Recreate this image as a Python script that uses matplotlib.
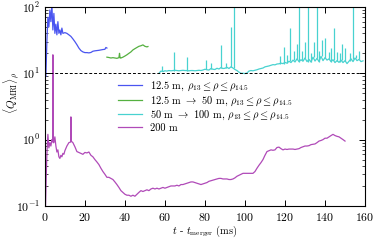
import matplotlib
matplotlib.use("Agg")
import matplotlib.pyplot as plt
import numpy as np

# --- data (t - t_merger in ms, <Q_MRI>_rho) ---
blue_t = [0.5, 1.0, 1.5, 2.0, 2.5, 3.0, 3.5, 4.0, 4.5, 5.0, 5.5, 6.0, 6.5, 7.0, 7.5,
          8.0, 8.5, 9.0, 10, 11, 12, 13, 14, 15, 16, 17, 18, 19, 20, 21, 22, 23, 24,
          25, 26, 27, 28, 29, 30, 30.5, 31]
blue_v = [9, 30, 70, 50, 90, 60, 110, 45, 80, 40, 55, 38, 60, 40, 45,
          38, 48, 40, 41, 40, 38, 36, 33, 30, 27, 24, 22, 21, 20.5, 20.5, 20.3, 20.6, 21.5,
          21.8, 22, 22.2, 22.5, 22.8, 23, 24.5, 24]

green_t = [31, 32, 33, 34, 35, 36, 37, 37.3, 37.6, 38, 39, 40, 41, 42, 43, 44, 45,
           46, 47, 48, 49, 50, 51, 51.5]
green_v = [17.5, 17.3, 17.0, 17.2, 17.0, 16.8, 17.2, 20, 17, 17.0, 17.5, 18.2, 19, 20,
           21, 22.5, 23.5, 24.5, 25.5, 26, 26.8, 25.5, 25, 25.3]

cyan_base_t = list(range(57, 160))
cyan_base_v = [10.0, 10.8, 10.6, 10.9, 10.8, 11.0, 10.9, 11.0, 11.1, 11.0, 10.9, 11.0, 11.1,
               11.0, 11.0, 10.9, 11.0, 11.0, 10.9, 11.0, 11.1, 11.0, 11.2, 11.5, 11.3, 11.2,
               11.8, 11.5, 11.4, 11.9, 11.6, 12.2, 11.8, 11.9, 12.3, 11.8, 12.5, 12.0, 11.4,
               11.0, 10.4, 10.0, 10.0, 9.9, 10.1, 10.8, 11.0, 10.9, 11.1, 11.3, 11.6, 11.8,
               12.0, 12.5, 12.7, 12.9, 13.2, 13.5, 13.4, 13.8, 13.9, 14.2, 14.0, 14.6, 14.2,
               15.2, 14.5, 15.8, 14.8, 16.5, 15.0, 16.0, 15.2, 17.0, 15.0, 16.2, 14.8, 17.5,
               15.3, 16.8, 15.0, 18.0, 15.5, 17.2, 15.8, 16.5, 15.0, 16.0, 14.5, 15.5, 14.6,
               15.8, 14.5, 15.5, 14.0, 15.2, 16.5, 15.0, 17.0, 15.5, 16.2, 15.0, 15.4]
# narrow spikes on top of the cyan run: time, foot value, peak value
cyan_spike_t = [58.4, 64.5, 71.0, 80.3, 83.0, 88.0, 90.5, 93.0, 94.7, 117.5, 119.5, 121.0,
                122.5, 124.5, 126.0, 127.0, 128.5, 130.0, 131.5, 133.0, 134.4, 136.0, 137.0,
                138.5, 140.0, 142.0, 143.2, 144.5, 146.0, 147.3, 148.5, 150.0, 152.5, 154.0,
                155.3, 157.0]
cyan_spike_base = [10.8, 11.0, 11.0, 11.5, 11.8, 12.2, 11.9, 12.5, 12.0, 13.9, 14.0, 14.2,
                   15.2, 15.8, 16.5, 15.0, 16.0, 17.0, 15.0, 14.8, 17.5, 16.8, 15.0,
                   18.0, 17.2, 16.5, 15.0, 16.0, 15.5, 14.6, 15.8, 15.5, 15.2, 16.5,
                   17.0, 16.2]
cyan_spike_v = [13, 21, 17.6, 16, 14.3, 26.7, 14.5, 50, 160, 18, 25, 19,
                48, 22, 28, 160, 22, 30, 160, 20, 30, 160, 22,
                32, 34, 21, 24, 48, 21, 20, 28, 24, 20, 160,
                19, 22]

mag_t = [0.3, 0.7, 1.0, 1.5, 2.0, 2.5, 3.0, 3.5, 3.9, 4.0, 4.1, 4.5, 5.0, 5.5, 6.0, 6.5,
         7.0, 7.5, 8.0, 8.5, 9.0, 9.5, 10, 11, 12, 12.9, 13.0, 13.1, 14, 15, 16, 17, 18,
         19, 20, 21, 22, 23, 24, 25, 26, 27, 28, 29, 30, 31, 32, 33, 34, 35, 36, 37, 38,
         39, 40, 41, 42, 43, 44, 45, 46, 47, 48, 49, 50, 51, 52, 53, 54, 55, 56, 57, 58,
         59, 60, 61, 62, 63, 64, 65, 66, 67, 68, 69, 70, 71, 72, 73, 74, 75, 76, 77, 78,
         79, 80, 81, 82, 83, 84, 85, 86, 87, 88, 89, 90, 91, 92, 93, 94, 95, 96, 97, 98,
         99, 100, 101, 102, 103, 104, 105, 106, 107, 108, 109, 110, 111, 112, 113, 114,
         115, 116, 117, 118, 119, 120, 121, 122, 123, 124, 125, 126, 127, 128, 129, 130,
         131, 132, 133, 134, 135, 136, 137, 138, 139, 140, 141, 142, 143, 144, 145, 146,
         147, 148, 149, 150]
mag_v = [0.09, 0.3, 0.6, 1.2, 0.75, 0.9, 0.8, 1.0, 0.95, 19, 0.9, 0.9, 1.1, 0.8, 0.65, 0.7,
         0.55, 0.52, 0.58, 0.55, 0.62, 0.6, 0.68, 0.8, 0.9, 0.92, 2.2, 0.95, 0.9, 0.78,
         0.66, 0.64, 0.62, 0.6, 0.64, 0.63, 0.65, 0.58, 0.55, 0.5, 0.46, 0.42, 0.37, 0.33,
         0.3, 0.27, 0.27, 0.26, 0.25, 0.23, 0.21, 0.19, 0.17, 0.16, 0.15, 0.145, 0.145,
         0.14, 0.145, 0.14, 0.15, 0.16, 0.17, 0.165, 0.17, 0.175, 0.17, 0.18, 0.185, 0.18,
         0.185, 0.18, 0.185, 0.19, 0.185, 0.19, 0.195, 0.2, 0.2, 0.2, 0.205, 0.2, 0.21,
         0.21, 0.215, 0.22, 0.225, 0.23, 0.23, 0.225, 0.22, 0.215, 0.21, 0.215, 0.22,
         0.225, 0.235, 0.24, 0.245, 0.25, 0.255, 0.26, 0.26, 0.255, 0.255, 0.255, 0.25,
         0.25, 0.255, 0.265, 0.28, 0.29, 0.3, 0.31, 0.31, 0.31, 0.31, 0.31, 0.31, 0.33,
         0.37, 0.41, 0.45, 0.5, 0.58, 0.66, 0.68, 0.7, 0.69, 0.7, 0.76, 0.77, 0.73, 0.7,
         0.72, 0.71, 0.72, 0.72, 0.72, 0.71, 0.72, 0.73, 0.76, 0.78, 0.8, 0.8, 0.81, 0.84,
         0.85, 0.86, 0.9, 0.95, 0.97, 1.0, 1.05, 1.05, 1.1, 1.15, 1.2, 1.15, 1.12, 1.1,
         1.05, 1.0, 0.95]

labels = [r'12.5 m, $\rho_{13} \leq \rho \leq \rho_{14.5}$',
          r'12.5 m $\rightarrow$ 50 m, $\rho_{13} \leq \rho \leq \rho_{14.5}$',
          r'50 m $\rightarrow$ 100 m, $\rho_{13} \leq \rho \leq \rho_{14.5}$',
          '200 m']
colors = ['#4a55f0', '#55b040', '#48d2d0', '#b04ab8']

plt.rcParams.update({
    'font.family': 'serif',
    'font.serif': ['cmr10'],
    'mathtext.fontset': 'cm',
    'axes.formatter.use_mathtext': True,
    'xtick.direction': 'in',
    'ytick.direction': 'in',
    'xtick.top': True,
    'ytick.right': True,
})

fig = plt.figure(figsize=(3.74, 2.4), dpi=100)
ax = fig.add_axes([0.120, 0.142, 0.856, 0.829])

ax.plot(blue_t, blue_v, color=colors[0], lw=0.9, label=labels[0])
ax.plot(green_t, green_v, color=colors[1], lw=0.9, label=labels[1])
ax.plot(cyan_base_t, cyan_base_v, color=colors[2], lw=0.9, label=labels[2])
ax.vlines(cyan_spike_t, cyan_spike_base, cyan_spike_v, color=colors[2], lw=0.9)
ax.plot(mag_t, mag_v, color=colors[3], lw=0.9, label=labels[3])
ax.axhline(10, color='black', ls='--', lw=0.7, dashes=(3, 2))

ax.set_yscale('log')
ax.set_xlim(0, 160)
ax.set_ylim(0.1, 100)
ax.set_xticks(range(0, 161, 20))
ax.tick_params(which='major', length=4, width=0.7, labelsize=8.5)
ax.tick_params(which='minor', length=2, width=0.5)
ax.tick_params(axis='x', which='minor', bottom=False, top=False)

ax.set_xlabel(r'$t$ - $t_{\rm merger}$ (ms)', fontsize=7.5)
ax.xaxis.set_label_coords(0.5, -0.09)
ax.set_ylabel(r'$\langle Q_{\rm MRI} \rangle_\rho$', fontsize=8)
ax.yaxis.set_label_coords(-0.076, 0.57)

ax.legend(loc='upper left', bbox_to_anchor=(0.215, 0.655), frameon=False, fontsize=7.5,
          handlelength=2.3, handletextpad=0.75, labelspacing=0.12, borderaxespad=0)

fig.savefig('out.png', dpi=100)
